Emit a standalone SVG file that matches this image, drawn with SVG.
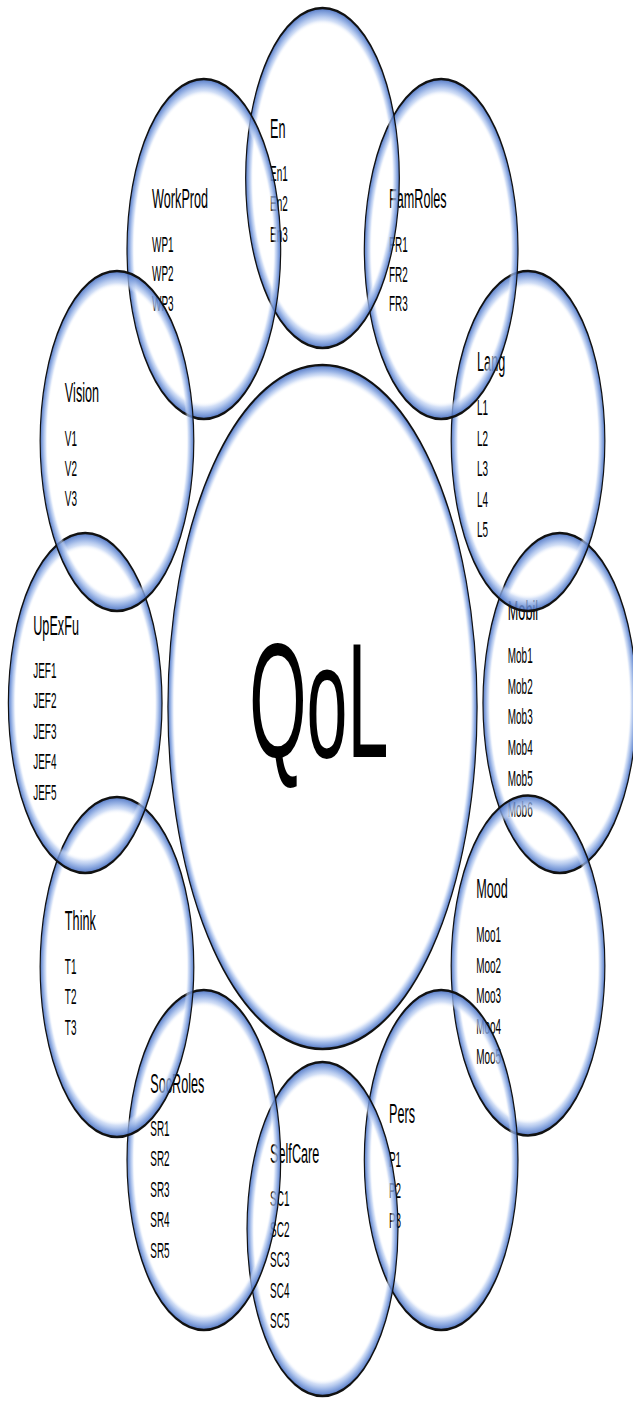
<svg xmlns="http://www.w3.org/2000/svg" width="633" height="1402" viewBox="0 0 633 1402">
  <defs>
    <!-- glossy blue ring band for the outer circles (r = 170) -->
    <radialGradient id="ringGrad" cx="0.5" cy="0.5" r="0.5">
      <stop offset="0.9" stop-color="#ffffff" stop-opacity="0"/>
      <stop offset="0.93" stop-color="#bccff2" stop-opacity="0.65"/>
      <stop offset="0.96" stop-color="#84a4e0" stop-opacity="0.8"/>
      <stop offset="0.985" stop-color="#5a80cc" stop-opacity="0.87"/>
      <stop offset="1" stop-color="#4368b8" stop-opacity="0.92"/>
    </radialGradient>
    <!-- same band, thinner relative to the large core circle (r = 342) -->
    <radialGradient id="coreGrad" cx="0.5" cy="0.5" r="0.5">
      <stop offset="0.955" stop-color="#ffffff" stop-opacity="0"/>
      <stop offset="0.97" stop-color="#bccff2" stop-opacity="0.65"/>
      <stop offset="0.982" stop-color="#84a4e0" stop-opacity="0.8"/>
      <stop offset="0.993" stop-color="#5a80cc" stop-opacity="0.87"/>
      <stop offset="1" stop-color="#4368b8" stop-opacity="0.92"/>
    </radialGradient>
  </defs>
  <style>
    .ring { fill: url(#ringGrad); stroke: #111111; stroke-width: 2.6; }
    .core { fill: url(#coreGrad); stroke: #111111; stroke-width: 2.6; }
    text { font-family: "Liberation Sans", Arial, sans-serif; fill: #000; }
    .title { font-size: 28px; }
    .item { font-size: 22px; }
    .big { font-size: 163px; text-anchor: middle; }
  </style>
  <rect width="633" height="1402" fill="#ffffff"/>

  <!-- whole figure is drawn as circles, then compressed horizontally -->
  <g id="diagram" transform="translate(322.5,0) scale(0.452,1)">

    <g id="node-qol">
      <circle class="core" cx="0" cy="707" r="342"/>
      <text class="big" x="-8" y="757">QoL</text>
    </g>

    <g id="node-mobil">
      <text class="title" x="410" y="620">Mobil</text>
      <text class="item" x="410" y="663">Mob1</text>
      <text class="item" x="410" y="694">Mob2</text>
      <text class="item" x="410" y="724">Mob3</text>
      <text class="item" x="410" y="755">Mob4</text>
      <text class="item" x="410" y="786">Mob5</text>
      <text class="item" x="410" y="817">Mob6</text>
      <circle class="ring" cx="525" cy="703" r="170"/>
    </g>

    <g id="node-mood">
      <text class="title" x="340" y="898">Mood</text>
      <text class="item" x="340" y="942">Moo1</text>
      <text class="item" x="340" y="973">Moo2</text>
      <text class="item" x="340" y="1003">Moo3</text>
      <text class="item" x="340" y="1034">Moo4</text>
      <text class="item" x="340" y="1064">Moo5</text>
      <circle class="ring" cx="454.7" cy="965.5" r="170"/>
    </g>

    <g id="node-pers">
      <text class="title" x="147" y="1123">Pers</text>
      <text class="item" x="147" y="1167">P1</text>
      <text class="item" x="147" y="1198">P2</text>
      <text class="item" x="147" y="1228">P3</text>
      <circle class="ring" cx="262.5" cy="1160" r="170"/>
    </g>

    <g id="node-selfcare">
      <text class="title" x="-116" y="1163">SelfCare</text>
      <text class="item" x="-116" y="1206">SC1</text>
      <text class="item" x="-116" y="1237">SC2</text>
      <text class="item" x="-116" y="1267">SC3</text>
      <text class="item" x="-116" y="1298">SC4</text>
      <text class="item" x="-116" y="1328">SC5</text>
      <circle class="ring" cx="0" cy="1229" r="167"/>
    </g>

    <g id="node-socroles">
      <text class="title" x="-381" y="1093">SocRoles</text>
      <text class="item" x="-381" y="1136">SR1</text>
      <text class="item" x="-381" y="1166">SR2</text>
      <text class="item" x="-381" y="1197">SR3</text>
      <text class="item" x="-381" y="1227">SR4</text>
      <text class="item" x="-381" y="1258">SR5</text>
      <circle class="ring" cx="-262.5" cy="1160" r="170"/>
    </g>

    <g id="node-think">
      <text class="title" x="-570" y="930">Think</text>
      <text class="item" x="-570" y="974">T1</text>
      <text class="item" x="-570" y="1004">T2</text>
      <text class="item" x="-570" y="1035">T3</text>
      <circle class="ring" cx="-454.7" cy="967" r="170"/>
    </g>

    <g id="node-upexfu">
      <text class="title" x="-640" y="635">UpExFu</text>
      <text class="item" x="-640" y="678">JEF1</text>
      <text class="item" x="-640" y="708">JEF2</text>
      <text class="item" x="-640" y="739">JEF3</text>
      <text class="item" x="-640" y="769">JEF4</text>
      <text class="item" x="-640" y="800">JEF5</text>
      <circle class="ring" cx="-525" cy="703" r="170"/>
    </g>

    <g id="node-lang">
      <text class="title" x="342" y="371">Lang</text>
      <text class="item" x="342" y="415">L1</text>
      <text class="item" x="342" y="446">L2</text>
      <text class="item" x="342" y="476">L3</text>
      <text class="item" x="342" y="507">L4</text>
      <text class="item" x="342" y="537">L5</text>
      <circle class="ring" cx="454.7" cy="441" r="170"/>
    </g>

    <g id="node-famroles">
      <text class="title" x="147" y="208">FamRoles</text>
      <text class="item" x="147" y="252">FR1</text>
      <text class="item" x="147" y="282">FR2</text>
      <text class="item" x="147" y="311">FR3</text>
      <circle class="ring" cx="262.5" cy="249" r="170"/>
    </g>

    <g id="node-en">
      <text class="title" x="-116" y="138">En</text>
      <text class="item" x="-116" y="181">En1</text>
      <text class="item" x="-116" y="211">En2</text>
      <text class="item" x="-116" y="242">En3</text>
      <circle class="ring" cx="0" cy="178" r="170"/>
    </g>

    <g id="node-workprod">
      <text class="title" x="-377" y="208">WorkProd</text>
      <text class="item" x="-377" y="252">WP1</text>
      <text class="item" x="-377" y="281">WP2</text>
      <text class="item" x="-377" y="311">WP3</text>
      <circle class="ring" cx="-262.5" cy="249" r="170"/>
    </g>

    <g id="node-vision">
      <text class="title" x="-570" y="402">Vision</text>
      <text class="item" x="-570" y="446">V1</text>
      <text class="item" x="-570" y="476">V2</text>
      <text class="item" x="-570" y="506">V3</text>
      <circle class="ring" cx="-454.7" cy="441" r="170"/>
    </g>

  </g>
</svg>
